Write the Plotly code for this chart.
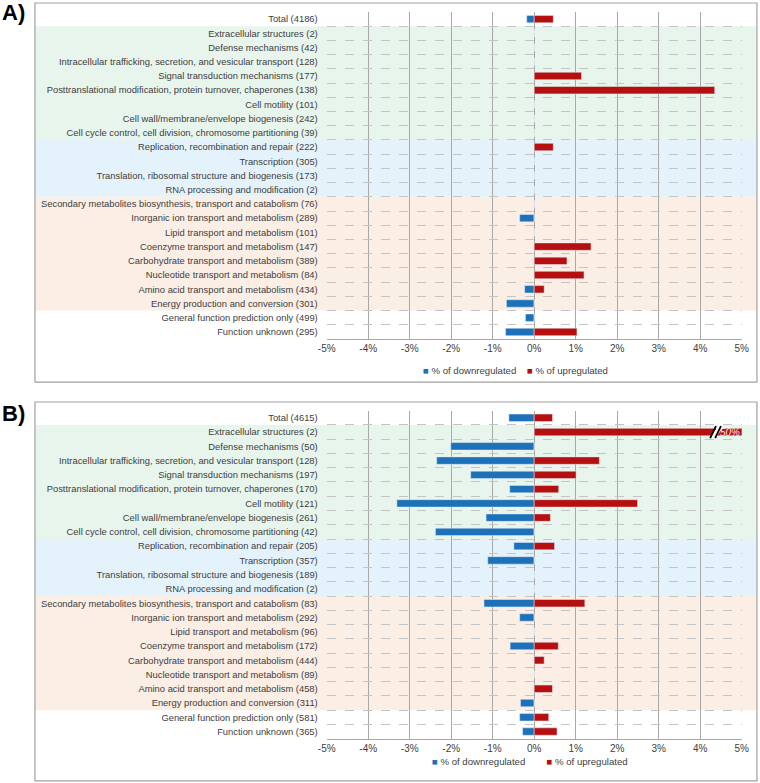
import plotly.graph_objects as go

categories = [
    "Total", "Extracellular structures", "Defense mechanisms",
    "Intracellular trafficking, secretion, and vesicular transport",
    "Signal transduction mechanisms",
    "Posttranslational modification, protein turnover, chaperones",
    "Cell motility", "Cell wall/membrane/envelope biogenesis",
    "Cell cycle control, cell division, chromosome partitioning",
    "Replication, recombination and repair", "Transcription",
    "Translation, ribosomal structure and biogenesis",
    "RNA processing and modification",
    "Secondary metabolites biosynthesis, transport and catabolism",
    "Inorganic ion transport and metabolism", "Lipid transport and metabolism",
    "Coenzyme transport and metabolism", "Carbohydrate transport and metabolism",
    "Nucleotide transport and metabolism", "Amino acid transport and metabolism",
    "Energy production and conversion", "General function prediction only",
    "Function unknown",
]
counts_a = [4186, 2, 42, 128, 177, 138, 101, 242, 39, 222, 305, 173, 2, 76, 289, 101, 147, 389, 84, 434, 301, 499, 295]
counts_b = [4615, 2, 50, 128, 197, 170, 121, 261, 42, 205, 357, 189, 2, 83, 292, 96, 172, 444, 89, 458, 311, 581, 365]

down_a = [-0.18, 0, 0, 0, 0, 0, 0, 0, 0, 0, 0, 0, 0, 0, -0.35, 0, 0, 0, 0, -0.23, -0.67, -0.21, -0.69]
up_a = [0.46, 0, 0, 0, 1.14, 4.35, 0, 0, 0, 0.46, 0, 0, 0, 0, 0, 0, 1.37, 0.79, 1.20, 0.24, 0, 0, 1.03]
down_b = [-0.61, 0, -2.01, -2.35, -1.53, -0.59, -3.31, -1.16, -2.38, -0.49, -1.12, 0, 0, -1.21, -0.35, 0, -0.58, 0, 0, 0, -0.33, -0.35, -0.28]
up_b = [0.44, 50, 0, 1.57, 1.01, 0.59, 2.49, 0.39, 0, 0.49, 0, 0, 0, 1.22, 0, 0, 0.58, 0.24, 0, 0.44, 0, 0.35, 0.55]

x_ticks = [-5, -4, -3, -2, -1, 0, 1, 2, 3, 4, 5]
series_names = ["% of downregulated", "% of upregulated"]

labels_a = [f"{c} ({n})" for c, n in zip(categories, counts_a)]
labels_b = [f"{c} ({n})" for c, n in zip(categories, counts_b)]

BLUE = "#1c71b8"
RED = "#b5100f"
FONT = "Liberation Sans, Arial, sans-serif"
TXT = "#404040"
GRID = "#a8a8a8"

fig = go.Figure()
fig.add_trace(go.Bar(y=labels_a, x=down_a, orientation="h", marker_color=BLUE,
                     name=series_names[0], xaxis="x", yaxis="y"))
fig.add_trace(go.Bar(y=labels_a, x=up_a, orientation="h", marker_color=RED,
                     name=series_names[1], xaxis="x", yaxis="y"))
fig.add_trace(go.Bar(y=labels_b, x=down_b, orientation="h", marker_color=BLUE,
                     name=series_names[0], xaxis="x2", yaxis="y2"))
fig.add_trace(go.Bar(y=labels_b, x=up_b, orientation="h", marker_color=RED,
                     name=series_names[1], xaxis="x2", yaxis="y2"))

xdom = [0.4299, 0.9759]
xax = dict(range=[-5, 5], tickvals=x_ticks, ticktext=[f"{v}%" for v in x_ticks],
           showgrid=True, gridcolor=GRID, gridwidth=1, zeroline=False,
           showline=True, linecolor=GRID, linewidth=1, ticks="", automargin=False,
           tickfont=dict(family=FONT, size=10, color=TXT), domain=xdom, fixedrange=True)
yax = dict(type="category", autorange="reversed", tickson="boundaries",
           showgrid=True, gridcolor="#c4c4c4", griddash="dash", gridwidth=1,
           ticks="", showline=False, zeroline=False, ticklabelstandoff=8, automargin=False,
           tickfont=dict(family=FONT, size=9.4, color=TXT))

fig.update_layout(
    width=760, height=783, margin=dict(l=0, r=0, t=0, b=0, autoexpand=False),
    paper_bgcolor="white", plot_bgcolor="rgba(0,0,0,0)",
    barmode="overlay", bargap=0.48, showlegend=False,
    xaxis=dict(**xax, anchor="y"),
    yaxis=dict(**yax, domain=[0.5670, 0.9847], anchor="x", categoryarray=labels_a),
    xaxis2=dict(**xax, anchor="y2"),
    yaxis2=dict(**yax, domain=[0.0566, 0.4755], anchor="x2", categoryarray=labels_b),
)

# background category bands and panel borders
bands = [(0.5, 8.5, "#e8f5ec"), (8.5, 12.5, "#e4f3fb"), (12.5, 20.5, "#fbeee5")]
shapes = []
for yref in ["y", "y2"]:
    for y0, y1, col in bands:
        shapes.append(dict(type="rect", xref="paper", yref=yref, x0=0.046, x1=0.996,
                           y0=y0, y1=y1, fillcolor=col, line_width=0, layer="below"))
shapes.append(dict(type="rect", xref="paper", yref="paper", x0=0.046, x1=0.996,
                   y0=0.5121, y1=0.9962, line=dict(color="#a0a0a0", width=1.2)))
shapes.append(dict(type="rect", xref="paper", yref="paper", x0=0.046, x1=0.996,
                   y0=0.0026, y1=0.4866, line=dict(color="#a0a0a0", width=1.2)))

# axis break marker on the clipped 50% bar of panel B
break_x = 4.36
shapes.append(dict(type="line", xref="x2", yref="y2", x0=break_x - 0.06, x1=break_x + 0.14,
                   y0=1.42, y1=0.58, line=dict(color="white", width=5)))
for dx in (-0.05, 0.07):
    shapes.append(dict(type="line", xref="x2", yref="y2", x0=break_x + dx - 0.07, x1=break_x + dx + 0.07,
                       y0=1.42, y1=0.58, line=dict(color="black", width=1.8)))
fig.update_layout(shapes=shapes)

fig.add_annotation(text=f"<i>{up_b[1]:.0f}%</i>", x=5, y=labels_b[1], xref="x2", yref="y2",
                   xanchor="right", showarrow=False,
                   font=dict(family=FONT, size=10, color="#fbe3e3"))

# legends drawn as text
def legend(xc, ypix, gap):
    txt = (f"<span style='color:{BLUE}'>■</span> {series_names[0]}"
           + "&nbsp;" * gap +
           f"<span style='color:{RED}'>■</span> {series_names[1]}")
    fig.add_annotation(text=txt, x=xc / 760, y=1 - ypix / 783, xref="paper", yref="paper",
                       xanchor="center", yanchor="middle", showarrow=False,
                       font=dict(family=FONT, size=9.6, color=TXT))

legend(515, 370, 4)
legend(530, 761, 8)

fig.add_annotation(text="<b>A)</b>", x=0.0, y=1 - 12 / 783, xref="paper", yref="paper",
                   xanchor="left", yanchor="middle", showarrow=False,
                   font=dict(family=FONT, size=22, color="black"))
fig.add_annotation(text="<b>B)</b>", x=0.0, y=1 - 413 / 783, xref="paper", yref="paper",
                   xanchor="left", yanchor="middle", showarrow=False,
                   font=dict(family=FONT, size=22, color="black"))

fig.write_html("out.html", config={"displayModeBar": False},
               post_script="document.body.style.margin='0px';")
